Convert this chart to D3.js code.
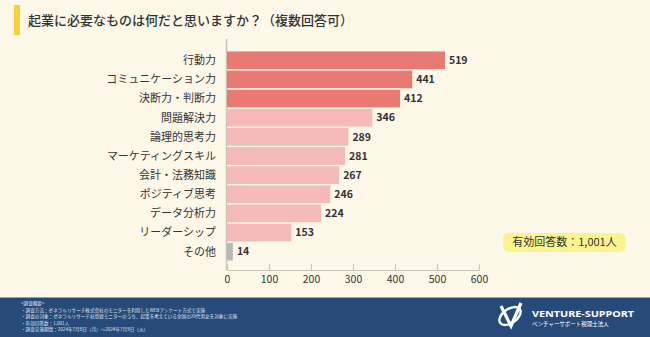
<!DOCTYPE html>
<html><head><meta charset="utf-8">
<script src="https://cdn.jsdelivr.net/npm/d3@7"></script>
<style>
html,body{margin:0;padding:0;background:#fef8e8;}
svg{display:block;font-family:"Noto Sans CJK JP","Noto Sans",sans-serif;}
</style></head>
<body><svg id="c" width="650" height="337"></svg>
<script>
const categories=["行動力","コミュニケーション力","決断力・判断力","問題解決力","論理的思考力","マーケティングスキル","会計・法務知識","ポジティブ思考","データ分析力","リーダーシップ","その他"];
const values=[519,441,412,346,289,281,267,246,224,153,14];
const colorGroup=["top","top","top","mid","mid","mid","mid","mid","mid","mid","other"];
const xTicks=[0,100,200,300,400,500,600];
const title="起業に必要なものは何だと思いますか？（複数回答可）";
const badge="有効回答数：1,001人";
const notes=["<調査概要>","・調査方法：ゼネラルリサーチ株式会社のモニターを利用したWEBアンケート方式で実施","・調査の対象：ゼネラルリサーチ社登録モニターのうち、起業を考えている全国の20代男女を対象に実施","・有効回答数：1,001人","・調査実施期間：2024年7月8日（月）～2024年7月9日（火）"];

const svg=d3.select("#c");
svg.append("rect").attr("width",650).attr("height",337).attr("fill","#fef8e8");
svg.append("rect").attr("x",14).attr("y",5).attr("width",6).attr("height",30).attr("fill","#f5d23a");
svg.append("text").attr("x",28).attr("y",25).attr("font-size",13).attr("font-weight",500).attr("fill","#333").text(title);

const x=d3.scaleLinear().domain([0,600]).range([227,479]);
const y=d3.scaleBand().domain(categories).range([50.5,261.5]).paddingInner(0.08).paddingOuter(0.05);
const col={top:"#e97a73",mid:"#f5b9b8",other:"#b9b9b9"};

svg.append("line").attr("x1",226.5).attr("x2",226.5).attr("y1",39).attr("y2",270).attr("stroke","#c8c4b8").attr("stroke-width",1.5);
const axis=d3.axisBottom(x).tickValues(xTicks).tickSize(6).tickSizeOuter(0);
const ag=svg.append("g").attr("transform","translate(0,270)").call(axis);
ag.select(".domain").attr("stroke","#c8c4b8");
ag.selectAll(".tick line").attr("stroke","#c8c4b8").attr("y1",-6).attr("y2",0);
ag.selectAll(".tick text").attr("y",6).attr("font-size",10.5).attr("fill","#333").attr("font-family","'Noto Sans CJK JP',sans-serif");

const g=svg.append("g");
categories.forEach((c,i)=>{
  g.append("rect").attr("x",x(0)).attr("y",y(c)).attr("width",x(values[i])-x(0)).attr("height",y.bandwidth()).attr("fill",col[colorGroup[i]]);
  g.append("text").attr("x",216).attr("y",y(c)+y.bandwidth()/2).attr("dy","0.35em").attr("text-anchor","end").attr("font-size",11).attr("fill","#333").text(c);
  g.append("text").attr("x",x(values[i])+4).attr("y",y(c)+y.bandwidth()/2).attr("dy","0.35em").attr("font-size",10.5).attr("font-weight",700).attr("fill","#333").text(values[i]);
});

svg.append("rect").attr("x",503).attr("y",233).attr("width",123).attr("height",19).attr("rx",6).attr("fill","#fbf38d");
svg.append("text").attr("x",564.5).attr("y",242.5).attr("dy","0.35em").attr("text-anchor","middle").attr("font-size",11).attr("fill","#333").text(badge);

svg.append("rect").attr("x",0).attr("y",297).attr("width",650).attr("height",1).attr("fill","#9aa3ad");
svg.append("rect").attr("x",0).attr("y",298).attr("width",650).attr("height",39).attr("fill","#284a7a");
notes.forEach((t,i)=>{
  svg.append("text").attr("x",21).attr("y",305+i*6.5).attr("font-size",4.6).attr("fill","#dfe5ef").text(t);
});
const lg=svg.append("g").attr("transform","translate(510,316)");
lg.append("ellipse").attr("cx",0).attr("cy",0).attr("rx",12).attr("ry",7).attr("fill","none").attr("stroke","#fff").attr("stroke-width",2.4).attr("transform","rotate(-35)");
lg.append("path").attr("d","M-9,-10 L1,10 L11,-13").attr("fill","none").attr("stroke","#fff").attr("stroke-width",3.2);
svg.append("text").attr("x",532).attr("y",317).attr("font-size",9.5).attr("font-weight",700).attr("fill","#fff").attr("font-family","'Noto Sans',sans-serif").attr("textLength",102).attr("lengthAdjust","spacingAndGlyphs").text("VENTURE-SUPPORT");
svg.append("text").attr("x",532).attr("y",325.5).attr("font-size",5.5).attr("fill","#fff").text("ベンチャーサポート税理士法人");
</script></body></html>
